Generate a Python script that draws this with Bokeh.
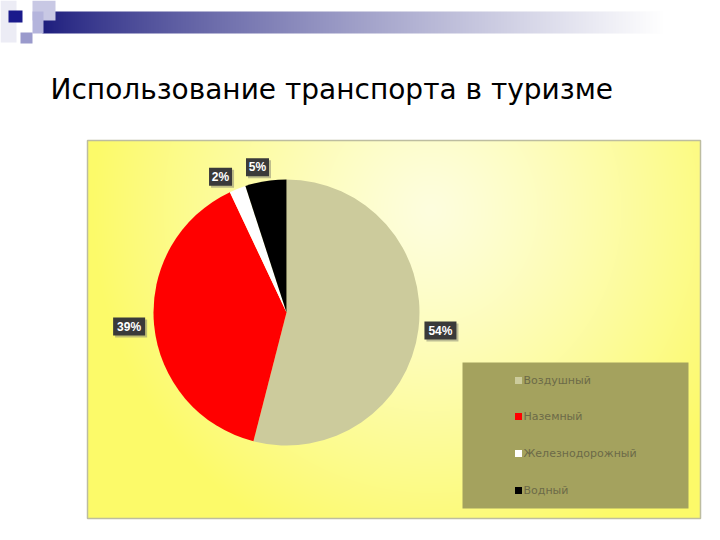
import numpy as np
from bokeh.plotting import figure
from bokeh.models import Range1d, ColumnDataSource
from bokeh.embed import file_html
from bokeh.resources import INLINE
from bokeh.core.properties import value

# ---- data ----
categories = ["Воздушный", "Наземный", "Железнодорожный", "Водный"]
shares = [54, 39, 2, 5]
colors = ["#cccb9c", "#ff0000", "#ffffff", "#000000"]
title_text = "Использование транспорта в туризме"

W, H = 704, 524
def X(px): return px
def Y(py): return H - py

p = figure(width=W, height=H, x_range=Range1d(0, W), y_range=Range1d(0, H),
           output_backend="svg", toolbar_location=None, min_border=0)
p.axis.visible = False
p.grid.visible = False
p.outline_line_color = None
p.background_fill_color = "white"
p.border_fill_color = "white"

def rgba_img(rgb):
    h, w, _ = rgb.shape
    img = np.empty((h, w), dtype=np.uint32)
    v = img.view(dtype=np.uint8).reshape((h, w, 4))
    v[:, :, 0] = rgb[:, :, 0]
    v[:, :, 1] = rgb[:, :, 1]
    v[:, :, 2] = rgb[:, :, 2]
    v[:, :, 3] = 255
    return img

# ---- top decoration ----
p.quad(left=[X(0)], right=[X(16)], top=[Y(0)], bottom=[Y(42)], fill_color="#ececf5", line_color=None)
bx0, bx1, by0, by1 = 42, 704, 11, 33
bw, bh = bx1 - bx0, by1 - by0
t = np.clip(np.arange(bw) / 620.0, 0, 1) ** 0.8
navy = np.array([28, 28, 125.0])
white = np.array([255, 255, 255.0])
row = navy[None, :] * (1 - t[:, None]) + white[None, :] * t[:, None]
bar = np.repeat(row[None, :, :], bh, axis=0).astype(np.uint8)
p.image_rgba(image=[rgba_img(bar)], x=X(bx0), y=Y(by1), dw=bw, dh=bh)
p.quad(left=[X(32)], right=[X(55)], top=[Y(0)], bottom=[Y(20)], fill_color="#c8c8e4", line_color=None)
p.quad(left=[X(8)], right=[X(22)], top=[Y(10)], bottom=[Y(22)], fill_color="#1a1a8c", line_color=None)
p.quad(left=[X(32)], right=[X(43)], top=[Y(11)], bottom=[Y(33)], fill_color="#b4b4dc", line_color=None)
p.quad(left=[X(20)], right=[X(32)], top=[Y(32)], bottom=[Y(43)], fill_color="#9a9acc", line_color=None)

# ---- title ----
p.text(x=[X(50)], y=[Y(89)], text=[title_text], text_font=value("DejaVu Sans"),
       text_font_size="28px", text_color="#000000", text_baseline="alphabetic")

# ---- chart area background ----
cx0, cx1, cy0, cy1 = 87, 700, 140, 518
cw, ch = cx1 - cx0, cy1 - cy0
xs = np.arange(cw) + cx0
ys = cy1 - np.arange(ch)
XX, YY = np.meshgrid(xs, ys)
d = np.sqrt(((XX - 430) / 340.0) ** 2 + ((YY - 210) / 360.0) ** 2)
d = np.clip(d, 0, 1) ** 1.2
pale = np.array([254, 254, 222.0])
yel = np.array([252, 250, 105.0])
bg = (pale[None, None, :] * (1 - d[:, :, None]) + yel[None, None, :] * d[:, :, None]).astype(np.uint8)
p.image_rgba(image=[rgba_img(bg)], x=X(cx0), y=Y(cy1), dw=cw, dh=ch)
p.quad(left=[X(cx0)], right=[X(cx1)], top=[Y(cy0)], bottom=[Y(cy1)], fill_color=None,
       line_color="#bdbda0", line_width=1.5)

# ---- pie ----
pcx, pcy, R = X(286), Y(312), 133
frac = np.array(shares, dtype=float) / sum(shares)
cum = np.concatenate([[0], np.cumsum(frac)])
start = np.pi / 2 - cum[:-1] * 2 * np.pi
end = np.pi / 2 - cum[1:] * 2 * np.pi
src = ColumnDataSource(dict(start=start, end=end, color=colors))
p.wedge(x=pcx, y=pcy, radius=R, start_angle="start", end_angle="end", direction="clock",
        fill_color="color", line_color=None, source=src)

# ---- data labels ----
label_r = [155, 158, 151, 148]
label_shift_deg = [-0.5, 0.3, -4.3, -2.3]
mid = (cum[:-1] + cum[1:]) / 2 * 2 * np.pi + np.radians(label_shift_deg)
lx = [pcx + r * np.sin(a) for r, a in zip(label_r, mid)]
ly = [pcy + r * np.cos(a) for r, a in zip(label_r, mid)]
labels = [f"{s}%" for s in shares]
lw = [9 * len(s) + 5 for s in labels]
p.rect(x=[v + 2 for v in lx], y=[v - 2 for v in ly], width=lw, height=18,
       fill_color="#808070", fill_alpha=0.5, line_color=None)
p.rect(x=lx, y=ly, width=lw, height=18, fill_color="#3a3a3a", line_color=None)
p.text(x=lx, y=ly, text=labels, text_font=value("Liberation Sans"), text_font_style="bold",
       text_font_size="12px", text_color="white", text_align="center", text_baseline="middle")

# ---- legend ----
p.quad(left=[X(462)], right=[X(688)], top=[Y(362)], bottom=[Y(508)],
       fill_color="#a4a25e", line_color=None)
leg_y = [Y(v) for v in (380, 416, 453, 490)]
p.rect(x=[X(518)] * 4, y=leg_y, width=7, height=7, fill_color=colors, line_color=None)
p.text(x=[X(523)] * 4, y=leg_y, text=categories, text_font=value("DejaVu Sans"),
       text_font_size="11px", text_color="#6c6a48", text_baseline="middle")

open("out.html", "w").write(file_html(p, INLINE))
